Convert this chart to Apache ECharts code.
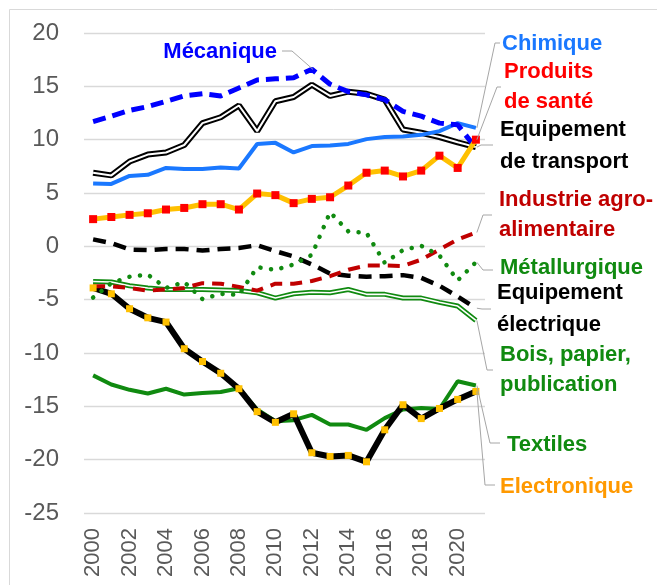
<!DOCTYPE html>
<html><head><meta charset="utf-8">
<script src="https://cdn.jsdelivr.net/npm/echarts@6/dist/echarts.min.js"></script>
<style>html,body{margin:0;padding:0;background:#fff}#c{width:657px;height:585px}</style>
</head><body><div id="c"></div>
<script>
// ---- data ----
const years = ['2000','2001','2002','2003','2004','2005','2006','2007','2008','2009','2010','2011','2012','2013','2014','2015','2016','2017','2018','2019','2020','2021'];
const yTickMin = -25, yTickMax = 20, yTickStep = 5;

const mecanique   = [11.7, 12.2, 12.75, 13.1, 13.6, 14.1, 14.3, 14.1, 14.85, 15.6, 15.7, 15.8, 16.6, 15.2, 14.5, 14.2, 13.75, 12.65, 12.2, 11.55, 11.4, 9.2];
const chimique    = [5.9, 5.85, 6.6, 6.7, 7.35, 7.25, 7.25, 7.4, 7.3, 9.6, 9.7, 8.8, 9.4, 9.45, 9.6, 10.05, 10.25, 10.3, 10.45, 10.8, 11.55, 11.1];
const sante       = [2.55, 2.75, 2.95, 3.1, 3.45, 3.6, 3.95, 3.95, 3.45, 4.95, 4.8, 4.05, 4.45, 4.6, 5.7, 6.9, 7.1, 6.55, 7.1, 8.5, 7.35, 10.0];
const transport   = [6.9, 6.65, 7.95, 8.6, 8.8, 9.5, 11.55, 12.1, 13.2, 10.8, 13.6, 14.0, 15.15, 14.1, 14.5, 14.3, 13.75, 10.95, 10.65, 10.25, 9.75, 9.3];
const agro        = [-3.75, -3.75, -3.9, -4.15, -4.05, -3.9, -3.45, -3.5, -3.8, -4.15, -3.5, -3.5, -3.25, -2.8, -2.2, -1.8, -1.8, -1.85, -1.25, -0.3, 0.65, 1.3];
const metal       = [-4.8, -3.45, -2.85, -2.65, -3.9, -3.35, -4.95, -4.45, -4.55, -1.95, -2.2, -1.7, -0.8, 3.2, 1.4, 1.25, -1.55, -0.35, 0.05, -0.85, -3.2, -1.5];
const elec        = [0.65, 0.3, -0.3, -0.35, -0.25, -0.25, -0.4, -0.25, -0.15, 0.1, -0.45, -0.95, -1.7, -2.55, -2.75, -2.85, -2.8, -2.7, -2.95, -3.7, -4.7, -5.8];
const bois        = [-3.3, -3.35, -3.7, -3.9, -4.05, -4.05, -4.05, -4.1, -4.15, -4.35, -4.85, -4.45, -4.3, -4.35, -4.05, -4.5, -4.5, -4.85, -4.85, -5.25, -5.6, -6.95];
const textiles    = [-12.1, -12.95, -13.45, -13.8, -13.35, -13.9, -13.75, -13.65, -13.3, -15.3, -16.4, -16.3, -15.8, -16.7, -16.7, -17.2, -16.1, -15.3, -15.15, -15.25, -12.65, -13.05];
const electronique= [-3.9, -4.45, -5.85, -6.7, -7.1, -9.6, -10.8, -11.9, -13.35, -15.5, -16.5, -15.7, -19.35, -19.7, -19.6, -20.2, -17.2, -14.85, -16.15, -15.2, -14.35, -13.6];

const labelTexts = ['Mécanique','Chimique','Produits\nde santé','Equipement\nde transport','Industrie agro-\nalimentaire','Métallurgique','Equipement\nélectrique','Bois, papier,\npublication','Textiles','Electronique'];

// ---- styles ----
const GREEN = '#108a10';
const FONT = "'Liberation Sans', Arial, sans-serif";

function ln(data, color, width, extra) {
  const s = {
    type: 'line', data: data, symbol: 'none', silent: true,
    lineStyle: Object.assign({ color: color, width: width }, (extra && extra.lineStyle) || {}),
    itemStyle: { color: color },
    emphasis: { disabled: true }, z: 2
  };
  if (extra && extra.symbol) {
    s.symbol = extra.symbol; s.symbolSize = extra.symbolSize; s.showSymbol = true;
    s.itemStyle = { color: extra.symbolColor, borderWidth: 0 };
  }
  return s;
}

const series = [
  ln(bois, GREEN, 5),
  ln(bois, '#ffffff', 1.6),
  ln(textiles, GREEN, 4),
  ln(electronique, '#000000', 6, { symbol: 'rect', symbolSize: 7, symbolColor: '#FFC000' }),
  ln(elec, '#000000', 4.5, { lineStyle: { type: [13, 8] } }),
  ln(agro, '#C00000', 4, { lineStyle: { type: [12, 8] } }),
  ln(metal, GREEN, 4.5, { lineStyle: { type: [0.1, 10.5], cap: 'round' } }),
  ln(transport, '#000000', 6),
  ln(transport, '#ffffff', 2),
  ln(chimique, '#1a78ff', 4),
  ln(mecanique, '#0000ff', 5, { lineStyle: { type: [13, 7] } }),
  ln(sante, '#FFC000', 5, { symbol: 'rect', symbolSize: 8, symbolColor: '#FF0000' })
];

const chart = echarts.init(document.getElementById('c'), null, { renderer: 'canvas' });
chart.setOption({
  animation: false,
  backgroundColor: '#ffffff',
  grid: { left: 84, right: 172, top: 33, bottom: 72, containLabel: false },
  xAxis: {
    type: 'category', data: years, boundaryGap: true,
    axisLine: { show: false }, axisTick: { show: false },
    axisLabel: { interval: 1, rotate: 90, fontSize: 22, color: '#595959', fontFamily: FONT, margin: 15 }
  },
  yAxis: {
    type: 'value', min: yTickMin, max: yTickMax, interval: yTickStep,
    axisLine: { show: false }, axisTick: { show: false },
    axisLabel: { fontSize: 24, color: '#595959', fontFamily: "'Liberation Sans Narrow', 'Arial Narrow', 'Liberation Sans', sans-serif", margin: 25 },
    splitLine: { lineStyle: { color: '#d9d9d9', width: 1.3 } }
  },
  series: series
});

// ---- labels with leader lines (layout only; anchors come from the data via the axes) ----
const labelLayout = [
  { src: mecanique, idx: 12, color: '#0000ff', x: 277, y: 52, align: 'right', lh: 26, bend: [292, 51], end: [282, 51] },
  { src: chimique, idx: 21, color: '#1a78ff', x: 502, y: 44, align: 'left', lh: 26, bend: [495, 43], end: [500, 43] },
  { src: sante, idx: 21, color: '#ff0000', x: 504, y: 72, align: 'left', lh: 30, bend: [497, 87], end: [501, 87] },
  { src: transport, idx: 21, color: '#000000', x: 500, y: 130, align: 'left', lh: 31.5, bend: [481, 145], end: [493, 145] },
  { src: agro, idx: 21, color: '#C00000', x: 499, y: 200, align: 'left', lh: 30, bend: [483, 215], end: [492, 215] },
  { src: metal, idx: 21, color: GREEN, x: 500, y: 268, align: 'left', lh: 26, bend: [483, 270], end: [493, 270] },
  { src: elec, idx: 21, color: '#000000', x: 497, y: 293, align: 'left', lh: 32, bend: [482, 309], end: [491, 309] },
  { src: bois, idx: 21, color: GREEN, x: 500, y: 355, align: 'left', lh: 30, bend: [487, 370], end: [493, 370] },
  { src: textiles, idx: 21, color: GREEN, x: 507, y: 445, align: 'left', lh: 26, bend: [490, 443], end: [500, 443] },
  { src: electronique, idx: 21, color: '#FF9900', x: 500, y: 487, align: 'left', lh: 26, bend: [485, 485], end: [495, 485] }
];

const graphics = [{
  type: 'rect', id: 'frame', silent: true, z: 0,
  shape: { x: 9.5, y: 9.5, width: 700, height: 700 },
  style: { fill: 'none', stroke: '#d9d9d9', lineWidth: 1 }
}];
labelLayout.forEach(function (L, i) {
  const p = chart.convertToPixel({ gridIndex: 0 }, [L.idx, L.src[L.idx]]);
  graphics.push({
    type: 'polyline', id: 'lead' + i, silent: true, z: 50,
    shape: { points: [[p[0] + 1, p[1]], L.bend, L.end] },
    style: { stroke: '#a6a6a6', lineWidth: 1, fill: null }
  });
  graphics.push({
    type: 'text', id: 'lab' + i, silent: true, z: 50,
    x: L.x, y: L.y - L.lh / 2,
    style: {
      text: labelTexts[i], fill: L.color, fontSize: 22, fontWeight: 'bold', fontFamily: FONT,
      align: L.align, verticalAlign: 'top', lineHeight: L.lh
    }
  });
});
chart.setOption({ graphic: graphics });
</script>
</body></html>
